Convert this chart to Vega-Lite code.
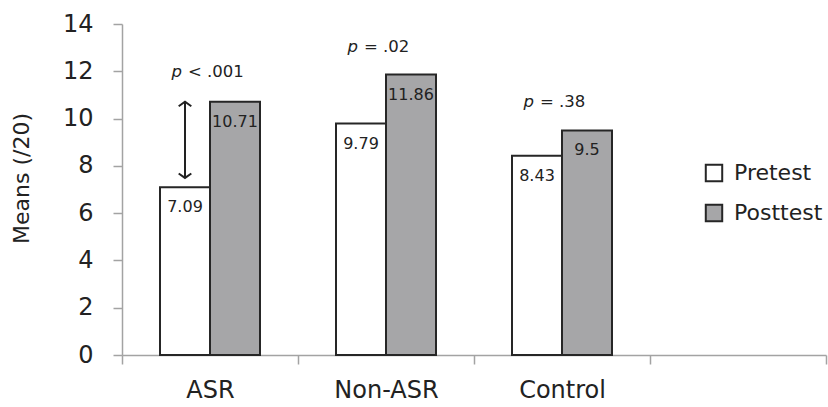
{
  "$schema": "https://vega.github.io/schema/vega-lite/v6.json",
  "width": 704,
  "height": 331,
  "autosize": "none",
  "padding": {"left": 122, "top": 24, "right": 2, "bottom": 52},
  "background": "white",
  "config": {
    "view": {"stroke": null},
    "font": "DejaVu Sans",
    "axis": {"grid": false, "domainColor": "#a3a3a3", "tickColor": "#a3a3a3", "domainWidth": 1.5, "tickWidth": 1.5, "labelColor": "#222222", "titleColor": "#222222", "labelFont": "DejaVu Sans", "titleFont": "DejaVu Sans"},
    "legend": {"labelFont": "DejaVu Sans", "labelColor": "#222222"}
  },
  "datasets": {
    "bars": [
      {"group": "ASR", "test": "Pretest", "mean": 7.09},
      {"group": "ASR", "test": "Posttest", "mean": 10.71},
      {"group": "Non-ASR", "test": "Pretest", "mean": 9.79},
      {"group": "Non-ASR", "test": "Posttest", "mean": 11.86},
      {"group": "Control", "test": "Pretest", "mean": 8.43},
      {"group": "Control", "test": "Posttest", "mean": 9.5}
    ],
    "notes": [
      {"group": "ASR", "p": "p", "rest": "< .001", "y": 11.97},
      {"group": "Non-ASR", "p": "p", "rest": "= .02", "y": 13.03},
      {"group": "Control", "p": "p", "rest": "= .38", "y": 10.7}
    ],
    "arrow": [
      {"group": "ASR", "test": "Pretest", "from": 7.49, "to": 10.71}
    ],
    "heads": [
      {"group": "ASR", "test": "Pretest", "at": 10.71, "dir": "up"},
      {"group": "ASR", "test": "Pretest", "at": 7.49, "dir": "down"}
    ]
  },
  "encoding": {
    "x": {
      "field": "group",
      "type": "nominal",
      "sort": null,
      "scale": {"domain": ["ASR", "Non-ASR", "Control", "_"], "paddingInner": 0, "paddingOuter": 0},
      "axis": {"title": null, "labelAngle": 0, "tickBand": "extent", "tickSize": 9, "labelFontSize": 24, "labelPadding": 14, "labelExpr": "datum.label == '_' ? '' : datum.label"}
    }
  },
  "layer": [
    {
      "data": {"name": "bars"},
      "mark": {"type": "bar", "stroke": "#262626", "strokeWidth": 2},
      "encoding": {
        "xOffset": {"field": "test", "type": "nominal", "sort": null, "scale": {"domain": ["Pretest", "Posttest"], "paddingInner": 0, "paddingOuter": 0.76}},
        "y": {
          "field": "mean", "type": "quantitative",
          "scale": {"domain": [0, 14], "nice": false},
          "axis": {"values": [0, 2, 4, 6, 8, 10, 12, 14], "tickSize": 9, "labelFontSize": 24, "labelPadding": 20, "title": "Means (/20)", "titleFontSize": 22, "titleFontWeight": "normal", "titleAngle": -90, "titleAlign": "center", "titleBaseline": "middle", "titleX": -101, "titleY": 154}
        },
        "fill": {
          "field": "test", "type": "nominal", "sort": null,
          "scale": {"domain": ["Pretest", "Posttest"], "range": ["#ffffff", "#a6a6a8"]},
          "legend": {"title": null, "orient": "none", "legendX": 581, "legendY": 138, "symbolType": "square", "symbolSize": 270, "symbolStrokeColor": "#262626", "symbolStrokeWidth": 2, "labelFontSize": 22, "labelOffset": 9, "rowPadding": 14, "padding": 0}
        }
      }
    },
    {
      "data": {"name": "bars"},
      "mark": {"type": "text", "baseline": "middle", "dy": 20, "fontSize": 16, "color": "#222222"},
      "encoding": {
        "xOffset": {"field": "test", "type": "nominal", "sort": null},
        "y": {"field": "mean", "type": "quantitative"},
        "text": {"field": "mean", "type": "quantitative"}
      }
    },
    {
      "data": {"name": "arrow"},
      "mark": {"type": "rule", "strokeWidth": 2, "color": "#222222"},
      "encoding": {
        "xOffset": {"field": "test", "type": "nominal", "sort": null},
        "y": {"field": "from", "type": "quantitative"},
        "y2": {"field": "to"}
      }
    },
    {
      "data": {"name": "heads"},
      "mark": {"type": "point", "filled": false, "strokeWidth": 2, "color": "#222222", "opacity": 1, "size": 160},
      "encoding": {
        "xOffset": {"field": "test", "type": "nominal", "sort": null},
        "y": {"field": "at", "type": "quantitative"},
        "shape": {"field": "dir", "type": "nominal", "scale": {"domain": ["up", "down"], "range": ["M-1,0.7L0,0L1,0.7", "M-1,-0.7L0,0L1,-0.7"]}, "legend": null}
      }
    },
    {
      "data": {"name": "notes"},
      "mark": {"type": "text", "align": "right", "baseline": "middle", "dx": -28, "fontSize": 16.5, "fontStyle": "italic", "color": "#222222"},
      "encoding": {
        "y": {"field": "y", "type": "quantitative"},
        "text": {"field": "p"}
      }
    },
    {
      "data": {"name": "notes"},
      "mark": {"type": "text", "align": "left", "baseline": "middle", "dx": -22, "fontSize": 16.5, "color": "#222222"},
      "encoding": {
        "y": {"field": "y", "type": "quantitative"},
        "text": {"field": "rest"}
      }
    }
  ]
}
